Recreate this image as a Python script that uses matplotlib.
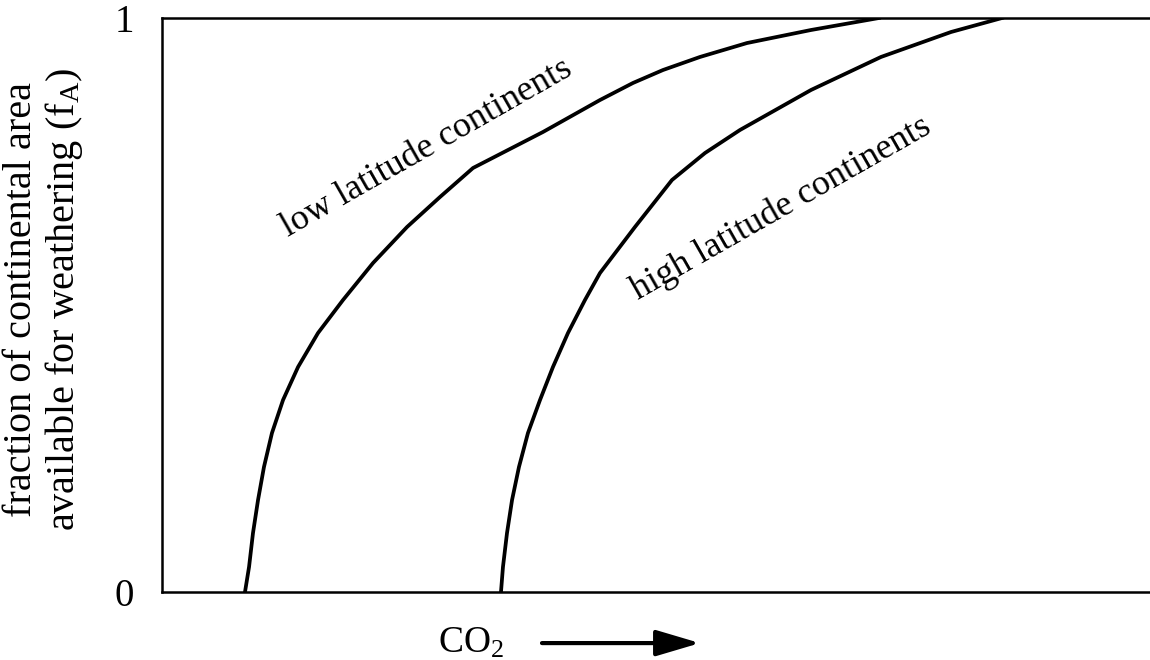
import matplotlib
matplotlib.use("Agg")
import matplotlib.pyplot as plt

plt.rcParams['font.family'] = ['Liberation Serif', 'DejaVu Serif']
plt.rcParams['mathtext.fontset'] = 'custom'
plt.rcParams['mathtext.rm'] = 'Liberation Serif'
plt.rcParams['mathtext.it'] = 'Liberation Serif:italic'

# curves (CO2 in relative units, fraction fA)
low_x = [0.0840, 0.0881, 0.0921, 0.0972, 0.1032, 0.1113, 0.1225, 0.1377,
         0.1579, 0.1832, 0.2136, 0.2480, 0.2814, 0.3148, 0.3856, 0.4433,
         0.4767, 0.5071, 0.5445, 0.5921, 0.6569, 0.7257]
low_y = [0.0, 0.0436, 0.1028, 0.1603, 0.2178, 0.2770, 0.3345, 0.3920,
         0.4512, 0.5087, 0.5732, 0.6359, 0.6882, 0.7387, 0.8014, 0.8571,
         0.8868, 0.9094, 0.9321, 0.9564, 0.9791, 1.0]
high_x = [0.3431, 0.3451, 0.3492, 0.3543, 0.3613, 0.3704, 0.3826, 0.3957,
          0.4109, 0.4281, 0.4433, 0.4787, 0.5162, 0.5496, 0.5850, 0.6569,
          0.7277, 0.7986, 0.8502]
high_y = [0.0, 0.0436, 0.1028, 0.1603, 0.2178, 0.2770, 0.3345, 0.3920,
          0.4512, 0.5087, 0.5557, 0.6359, 0.7178, 0.7648, 0.8049, 0.8746,
          0.9321, 0.9756, 1.0]
yticks = [0, 1]
ytick_labels = ["0", "1"]

fig = plt.figure(figsize=(11.5, 6.6), dpi=100)
ax = fig.add_axes([162/1150, 68/660, 988/1150, 574/660])

ax.plot(low_x, low_y, color='black', lw=2.7, solid_joinstyle='round')
ax.plot(high_x, high_y, color='black', lw=2.7, solid_joinstyle='round')

ax.set_xlim(0, 1)
ax.set_ylim(0, 1)
ax.set_xticks([])
ax.set_yticks(yticks)
ax.set_yticklabels(ytick_labels)
ax.tick_params(axis='y', length=0, pad=20, labelsize=28)

for s in ['left', 'top', 'bottom']:
    ax.spines[s].set_linewidth(1.8)
ax.spines['right'].set_visible(False)

ax.set_ylabel("fraction of continental area\navailable for weathering (f$_\\mathrm{A}$)",
              fontsize=29, linespacing=1.1)
ax.yaxis.set_label_coords(-0.078, 0.51)

ax.text(0.268, 0.773, "low latitude continents", fontsize=26, rotation=29.7,
        rotation_mode='anchor', ha='center', va='center')
ax.text(0.627, 0.669, "high latitude continents", fontsize=26, rotation=29.7,
        rotation_mode='anchor', ha='center', va='center')

ax.text(0.313, -0.089, "CO$_\\mathrm{2}$", fontsize=27, ha='center', va='center',
        transform=ax.transAxes)
ax.annotate("", xy=(0.5445, -0.089), xytext=(0.3846, -0.089),
            xycoords='axes fraction', textcoords='axes fraction',
            arrowprops=dict(arrowstyle='-|>,head_length=1.35,head_width=0.4',
                            mutation_scale=20, color='black', lw=3,
                            shrinkA=0, shrinkB=0))

fig.savefig("out.png", dpi=100, facecolor='white')
